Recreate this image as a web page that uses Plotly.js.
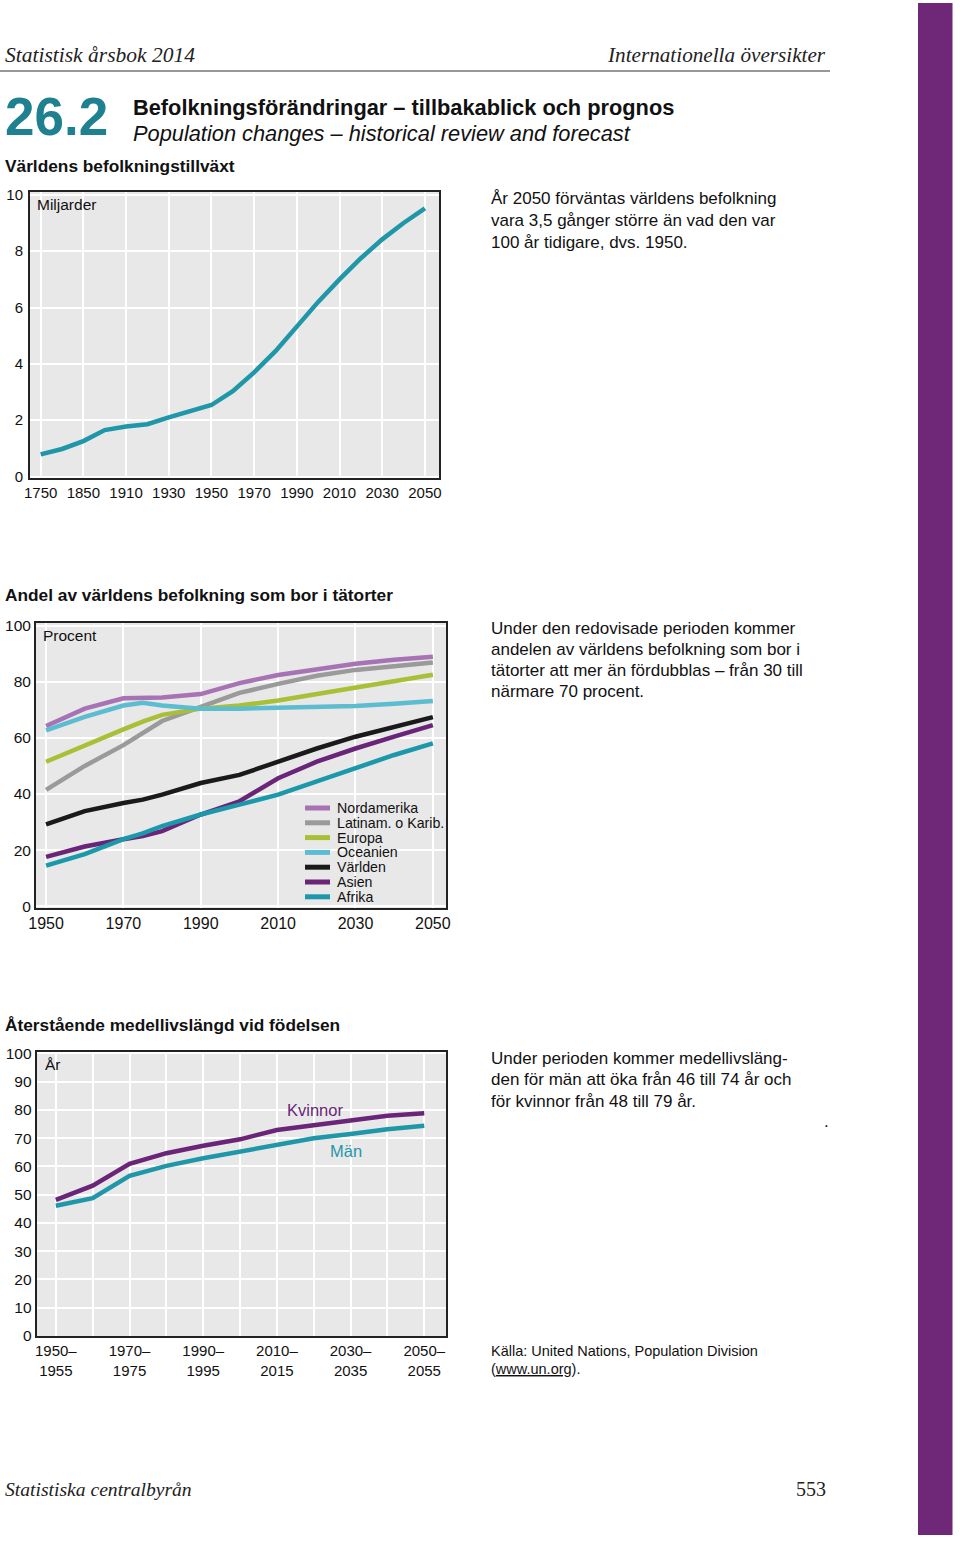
<!DOCTYPE html>
<html>
<head>
<meta charset="utf-8">
<script src="https://cdn.plot.ly/plotly-3.0.1.min.js"></script>
<style>html,body{margin:0;padding:0;background:#fff;}#chart{width:960px;height:1542px;}</style>
</head>
<body>
<div id="chart"></div>
<script>
// ---------- Data ----------
// Chart 1: world population (billions)
const popYears = ['1750','1800','1850','1900','1910','1920','1930','1940','1950','1960','1970','1980','1990','2000','2010','2020','2030','2040','2050'];
const popValues = [0.79, 0.98, 1.26, 1.65, 1.78, 1.86, 2.1, 2.32, 2.54, 3.03, 3.7, 4.45, 5.35, 6.2, 7.0, 7.75, 8.42, 9.0, 9.52];
const popTickLabels = ['1750','1850','1910','1930','1950','1970','1990','2010','2030','2050'];

// Chart 2: urban share (percent)
const urbYears = [1950,1960,1970,1975,1980,1990,2000,2010,2020,2030,2040,2050];
const nordamerika = [64.2,70.4,74.1,74.1,74.4,75.6,79.5,82.4,84.5,86.4,87.8,88.9];
const latinam     = [41.5,50.0,57.4,61.5,66.0,71.0,76.0,79.2,82.1,84.2,85.7,86.8];
const europa      = [51.5,57.4,63.0,65.8,68.2,70.4,71.5,73.3,75.6,78.0,80.4,82.5];
const oceanien    = [62.7,67.5,71.5,72.5,71.5,70.4,70.4,70.6,71.0,71.3,72.1,73.1];
const varlden     = [29.2,33.9,36.8,38.0,39.8,43.9,46.8,51.5,56.2,60.4,63.9,67.4];
const asien       = [17.6,21.3,23.9,25.0,26.8,32.7,37.4,45.6,51.5,56.2,60.4,64.5];
const afrika      = [14.5,18.6,23.9,26.0,28.6,32.7,36.2,39.8,44.5,49.2,53.9,58.0];
const urbNames = ['Nordamerika','Latinam. o Karib.','Europa','Oceanien','Världen','Asien','Afrika'];
const urbTicks = [1950,1970,1990,2010,2030,2050];

// Chart 3: life expectancy (years), period start years
const lifePeriods = [1950,1960,1970,1980,1990,2000,2010,2020,2030,2040,2050];
const kvinnor = [48.2,53.2,60.9,64.7,67.3,69.6,72.9,74.7,76.5,77.9,78.8];
const man     = [46.1,48.8,56.7,60.2,62.9,65.3,68.0,70.0,71.5,73.2,74.4];
const lifeTickLabels = ['1950–<br>1955','','1970–<br>1975','','1990–<br>1995','','2010–<br>2015','','2030–<br>2035','','2050–<br>2055'];

// ---------- Styling ----------
const W = 960, H = 1542;
const P = x => x / W;
const Q = y => 1 - y / H;
const SANS = 'Liberation Sans, Arial, sans-serif';
const SERIF = 'Liberation Serif, Times New Roman, serif';
const teal = '#1f97a8';
const purple = '#6a2579';
const urbColors = ['#a773b5','#9a9a9a','#a9bf35','#5cbcd0','#1a1a1a','#6a2579','#1b98aa'];
const urbSeries = [nordamerika, latinam, europa, oceanien, varlden, asien, afrika];

const traces = [];
traces.push({x: popYears, y: popValues, xaxis:'x', yaxis:'y', type:'scatter', mode:'lines',
  line:{color: teal, width:4.5}, showlegend:false, hoverinfo:'skip'});
urbSeries.forEach((s,i) => traces.push({x: urbYears, y: s, xaxis:'x2', yaxis:'y2', type:'scatter', mode:'lines',
  name: urbNames[i], line:{color: urbColors[i], width:4.5}, showlegend:false, hoverinfo:'skip'}));
traces.push({x: lifePeriods, y: kvinnor, xaxis:'x3', yaxis:'y3', type:'scatter', mode:'lines',
  line:{color: purple, width:4.5}, showlegend:false, hoverinfo:'skip'});
traces.push({x: lifePeriods, y: man, xaxis:'x3', yaxis:'y3', type:'scatter', mode:'lines',
  line:{color: teal, width:4.5}, showlegend:false, hoverinfo:'skip'});

const tf = s => ({family: SANS, size: s, color:'#111'});
function axisBase(extra){
  return Object.assign({showline:true, linecolor:'#222', linewidth:2, mirror:true,
    showgrid:true, gridcolor:'#ffffff', gridwidth:2, zeroline:false, ticks:'',
    tickfont: tf(15), fixedrange:true}, extra);
}

const layout = {
  width: W, height: H, autosize:false,
  margin:{l:0,r:0,t:0,b:0,pad:0},
  paper_bgcolor:'#ffffff', plot_bgcolor:'#e8e8e8',
  showlegend:false,
  xaxis: axisBase({domain:[P(30),P(439)], anchor:'y', type:'category', categoryorder:'array', categoryarray: popYears,
    tickmode:'array', tickvals: popTickLabels, ticktext: popTickLabels, range:[-0.5,18.66], ticklabelstandoff:0}),
  yaxis: axisBase({domain:[Q(478),Q(192)], anchor:'x', range:[-0.05,10.1], tickmode:'array',
    tickvals:[0,2,4,6,8,10], ticklabelstandoff:2}),
  xaxis2: axisBase({domain:[P(36),P(446)], anchor:'y2', range:[1947.4,2053.4], tickmode:'array',
    tickvals: urbTicks, ticklabelstandoff:0, tickfont: tf(16)}),
  yaxis2: axisBase({domain:[Q(908),Q(623)], anchor:'x2', range:[-0.6,100.9], tickmode:'array',
    tickvals:[0,20,40,60,80,100], ticklabelstandoff:0, tickfont: tf(15.5)}),
  xaxis3: axisBase({domain:[P(36.7),P(446)], anchor:'y3', range:[1944.8,2055.9], tickmode:'array',
    tickvals: lifePeriods, ticktext: lifeTickLabels, ticklabelstandoff:0, tickfont: tf(15)}),
  yaxis3: axisBase({domain:[Q(1336),Q(1052)], anchor:'x3', range:[0,100.5], tickmode:'array',
    tickvals:[0,10,20,30,40,50,60,70,80,90,100], ticklabelstandoff:0, tickfont: tf(15.5)}),
  shapes: [],
  annotations: []
};

function note(text, x, y, opts){
  layout.annotations.push(Object.assign({text: text, x: P(x), y: Q(y), xref:'paper', yref:'paper',
    xanchor:'left', yanchor:'middle', showarrow:false, align:'left',
    font:{family: SANS, size:17, color:'#111'}}, opts || {}));
}
function lines(arr, x, y0, dy, opts){
  arr.forEach((t,i) => note(t, x, y0 + i*dy, opts));
}

// Page furniture
layout.shapes.push({type:'rect', xref:'paper', yref:'paper', x0:P(918), x1:P(952.5), y0:Q(1535), y1:Q(3),
  fillcolor:'#6f2777', line:{width:0}, layer:'below'});
layout.shapes.push({type:'line', xref:'paper', yref:'paper', x0:P(0), x1:P(830), y0:Q(71), y1:Q(71),
  line:{color:'#333', width:1.2}});

note('<i>Statistisk årsbok 2014</i>', 3, 55, {font:{family:SERIF, size:21.5, color:'#222'}});
note('<i>Internationella översikter</i>', 828, 55, {xanchor:'right', font:{family:SERIF, size:21.2, color:'#222'}});
note('<b>26.2</b>', 3, 117, {font:{family:SANS, size:53, color:'#1f8190'}});
note('<b>Befolkningsförändringar – tillbakablick och prognos</b>', 131, 108, {font:{family:SANS, size:21.8, color:'#111'}});
note('<i>Population changes – historical review and forecast</i>', 131, 133, {font:{family:SANS, size:21.8, color:'#111'}});

const secFont = {family:SANS, size:17.3, color:'#111'};
note('<b>Världens befolkningstillväxt</b>', 3, 166, {font:secFont});
note('<b>Andel av världens befolkning som bor i tätorter</b>', 3, 595, {font:secFont});
note('<b>Återstående medellivslängd vid födelsen</b>', 3, 1025, {font:secFont});

lines(['År 2050 förväntas världens befolkning','vara 3,5 gånger större än vad den var','100 år tidigare, dvs. 1950.'], 489, 199, 21.5);
lines(['Under den redovisade perioden kommer','andelen av världens befolkning som bor i','tätorter att mer än fördubblas – från 30 till','närmare 70 procent.'], 489, 628, 21.2);
lines(['Under perioden kommer medellivsläng-','den för män att öka från 46 till 74 år och','för kvinnor från 48 till 79 år.'], 489, 1058, 21.5);
note('.', 822, 1121);
lines(['Källa: United Nations, Population Division','(<u>www.un.org</u>).'], 489, 1351, 18, {font:{family:SANS, size:14.5, color:'#111'}});

note('<i>Statistiska centralbyrån</i>', 3, 1489, {font:{family:SERIF, size:19.6, color:'#222'}});
note('553', 828, 1489, {xanchor:'right', font:{family:SERIF, size:20, color:'#222'}});

// In-plot labels
note('Miljarder', 35, 205, {font:{family:SANS, size:15.5, color:'#111'}});
note('Procent', 41, 635, {font:{family:SANS, size:15.5, color:'#111'}});
note('År', 43, 1064, {font:{family:SANS, size:15.5, color:'#111'}});

// Custom compact legend for chart 2
const legRows = [808, 822.8, 837.6, 852.4, 867.2, 882, 896.8];
urbNames.forEach((n,i) => {
  layout.shapes.push({type:'line', xref:'paper', yref:'paper', x0:P(305), x1:P(330), y0:Q(legRows[i]), y1:Q(legRows[i]),
    line:{color: urbColors[i], width:5}});
  note(n, 335, legRows[i], {font:{family:SANS, size:14.2, color:'#111'}});
});

// Chart 3 series labels (data coordinates)
layout.annotations.push({text:'Kvinnor', x:2020.3, y:80, xref:'x3', yref:'y3', showarrow:false,
  font:{family:SANS, size:16.5, color: purple}});
layout.annotations.push({text:'Män', x:2028.8, y:65.5, xref:'x3', yref:'y3', showarrow:false,
  font:{family:SANS, size:16.5, color: teal}});

Plotly.newPlot('chart', traces, layout, {staticPlot:true, displayModeBar:false});
</script>
</body>
</html>
